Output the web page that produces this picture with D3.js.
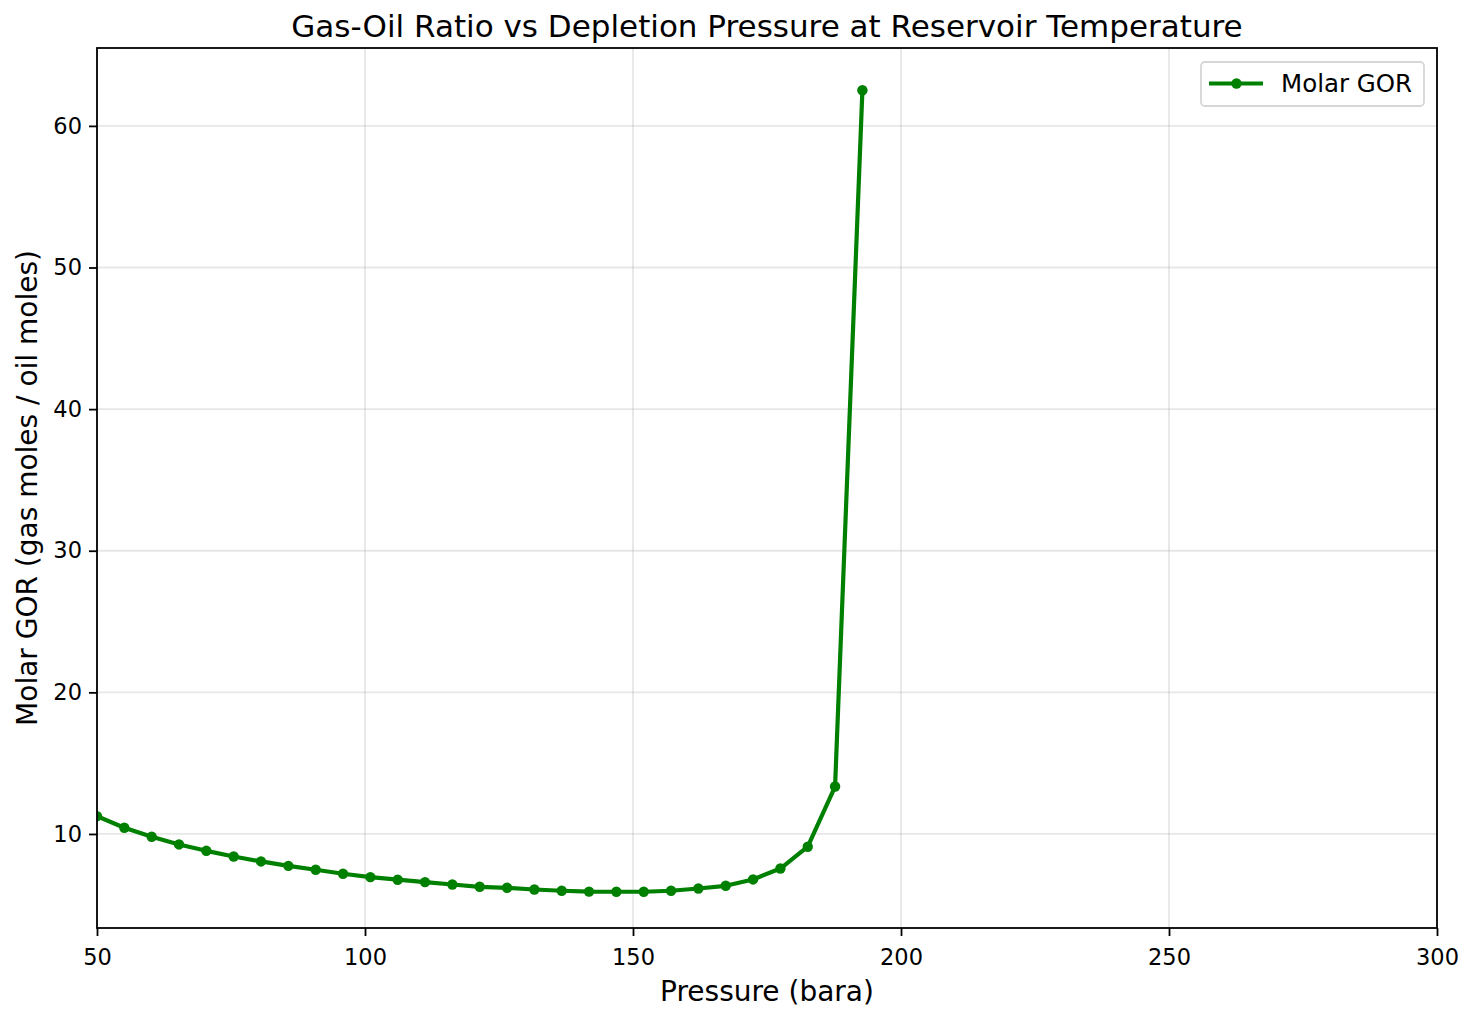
<html>
<head>
<meta charset="utf-8">
<title>Gas-Oil Ratio vs Depletion Pressure</title>
<style>
  body { margin: 0; background: #fff; }
  text { font-family: "DejaVu Sans", sans-serif; fill: #000; }
</style>
</head>
<body>
<script src="https://cdn.jsdelivr.net/npm/d3@7"></script>
<script>
var width = 1475, height = 1021;

// pressure steps (bara)
var pressure = [50, 55.1, 60.2, 65.3, 70.4, 75.5, 80.6, 85.7, 90.8, 95.9,
                101.0, 106.1, 111.2, 116.3, 121.4, 126.5, 131.6, 136.7, 141.8, 146.9,
                152.0, 157.1, 162.2, 167.3, 172.4, 177.5, 182.6, 187.7, 192.8];
// molar GOR (gas moles / oil moles)
var gor = [11.26, 10.44, 9.80, 9.26, 8.81, 8.41, 8.06, 7.75, 7.47, 7.19,
           6.95, 6.77, 6.60, 6.43, 6.27, 6.20, 6.08, 5.99, 5.93, 5.92,
           5.92, 5.99, 6.15, 6.34, 6.79, 7.56, 9.10, 13.35, 62.52];
var xTicks = [50, 100, 150, 200, 250, 300];
var yTicks = [10, 20, 30, 40, 50, 60];

var m = {left: 97, right: 1437, top: 48, bottom: 928};

var svg = d3.select("body").append("svg")
    .attr("width", width).attr("height", height);

var x = d3.scaleLinear().domain([50, 300]).range([m.left, m.right]);
var y = d3.scaleLinear().domain([3.36, 65.5]).range([m.bottom, m.top]);

// grid
var grid = svg.append("g");
grid.selectAll(".gx").data(xTicks).enter().append("line")
    .attr("x1", d => x(d)).attr("x2", d => x(d))
    .attr("y1", m.top).attr("y2", m.bottom)
    .attr("stroke", "#b0b0b0").attr("stroke-opacity", 0.3).attr("stroke-width", 1.8);
grid.selectAll(".gy").data(yTicks).enter().append("line")
    .attr("x1", m.left).attr("x2", m.right)
    .attr("y1", d => y(d)).attr("y2", d => y(d))
    .attr("stroke", "#b0b0b0").attr("stroke-opacity", 0.3).attr("stroke-width", 1.8);

// axes
var xAxis = svg.append("g").attr("transform", "translate(0," + m.bottom + ")")
    .call(d3.axisBottom(x).tickValues(xTicks).tickSize(8).tickPadding(13).tickFormat(d3.format("d")));
var yAxis = svg.append("g").attr("transform", "translate(" + m.left + ",0)")
    .call(d3.axisLeft(y).tickValues(yTicks).tickSize(8).tickPadding(7).tickFormat(d3.format("d")));
[xAxis, yAxis].forEach(function(a) {
  a.select(".domain").remove();
  a.selectAll(".tick line").attr("stroke", "#000").attr("stroke-width", 1.8);
  a.selectAll(".tick text").attr("font-size", 22.5).attr("font-family", "DejaVu Sans").attr("fill", "#000");
});

// clip for the series
svg.append("clipPath").attr("id", "clip").append("rect")
    .attr("x", m.left).attr("y", m.top)
    .attr("width", m.right - m.left).attr("height", m.bottom - m.top);

var pts = pressure.map(function(p, i) { return {p: p, g: gor[i]}; });

var line = d3.line().x(d => x(d.p)).y(d => y(d.g));
var series = svg.append("g").attr("clip-path", "url(#clip)");
series.append("path").datum(pts)
    .attr("d", line)
    .attr("fill", "none").attr("stroke", "#008000").attr("stroke-width", 4.2)
    .attr("stroke-linejoin", "round");
series.selectAll("circle").data(pts).enter().append("circle")
    .attr("cx", d => x(d.p)).attr("cy", d => y(d.g)).attr("r", 5.2)
    .attr("fill", "#008000");

// frame
svg.append("rect")
    .attr("x", m.left).attr("y", m.top)
    .attr("width", m.right - m.left).attr("height", m.bottom - m.top)
    .attr("fill", "none").attr("stroke", "#000").attr("stroke-width", 1.8);

// title and labels
svg.append("text").attr("x", (m.left + m.right) / 2).attr("y", 37)
    .attr("text-anchor", "middle").attr("font-size", 31)
    .text("Gas-Oil Ratio vs Depletion Pressure at Reservoir Temperature");
svg.append("text").attr("x", (m.left + m.right) / 2).attr("y", 1001)
    .attr("text-anchor", "middle").attr("font-size", 28)
    .text("Pressure (bara)");
svg.append("text")
    .attr("transform", "translate(37," + ((m.top + m.bottom) / 2) + ") rotate(-90)")
    .attr("text-anchor", "middle").attr("font-size", 28)
    .text("Molar GOR (gas moles / oil moles)");

// legend
var lg = svg.append("g");
lg.append("rect").attr("x", 1201).attr("y", 62).attr("width", 223).attr("height", 44)
    .attr("rx", 4).attr("fill", "#fff").attr("stroke", "#d6d6d6").attr("stroke-width", 1.8);
lg.append("line").attr("x1", 1209).attr("x2", 1263).attr("y1", 83.5).attr("y2", 83.5)
    .attr("stroke", "#008000").attr("stroke-width", 4.2);
lg.append("circle").attr("cx", 1236.5).attr("cy", 83.5).attr("r", 5.2).attr("fill", "#008000");
lg.append("text").attr("x", 1281).attr("y", 92).attr("font-size", 24.5).text("Molar GOR");
</script>
</body>
</html>
